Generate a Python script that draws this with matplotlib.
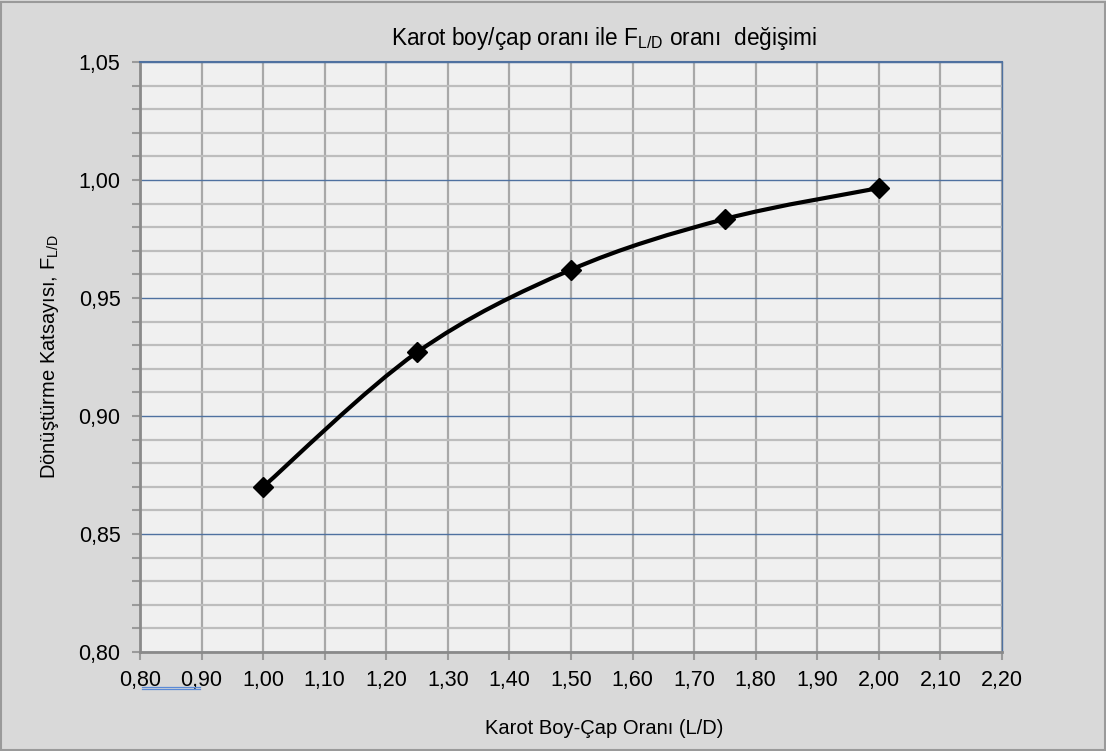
import numpy as np
import matplotlib
matplotlib.use("Agg")
import matplotlib.pyplot as plt
from matplotlib.path import Path
from matplotlib.patches import PathPatch, Rectangle
from matplotlib.lines import Line2D
from matplotlib.ticker import MultipleLocator, FuncFormatter

plt.rcParams['font.family'] = ['Liberation Sans', 'DejaVu Sans']

# Data
ld_ratio = [1.00, 1.25, 1.50, 1.75, 2.00]
f_ld = [0.870, 0.927, 0.962, 0.9835, 0.9966]

title = "Karot boy/çap oranı ile F$_{\\mathregular{L/D}}$ oranı  değişimi"
xlabel = "Karot Boy-Çap Oranı (L/D)"
ylabel = "Dönüştürme Katsayısı, F$_{\\mathregular{L/D}}$"

fig = plt.figure(figsize=(11.06, 7.51), dpi=100, facecolor='#d9d9d9')
fig.patches.append(Rectangle((0.001, 0.001), 0.998, 0.997, transform=fig.transFigure,
                             fill=False, edgecolor='#9a9a9a', linewidth=1.5))
ax = fig.add_axes([0.1266, 0.1318, 0.7794, 0.7856])
ax.set_facecolor('#f0f0f0')
ax.set_xlim(0.80, 2.20)
ax.set_ylim(0.80, 1.05)

ax.xaxis.set_major_locator(MultipleLocator(0.10))
ax.yaxis.set_major_locator(MultipleLocator(0.05))
ax.yaxis.set_minor_locator(MultipleLocator(0.01))
fmt2 = FuncFormatter(lambda v, p: f"{v:.2f}".replace('.', ','))
ax.xaxis.set_major_formatter(fmt2)
ax.yaxis.set_major_formatter(fmt2)

ax.grid(True, which='major', axis='y', color='#4f71a0', linewidth=1.0)
ax.grid(True, which='minor', axis='y', color='#bdbdbd', linewidth=1.6)
ax.grid(True, which='major', axis='x', color='#a8a8a8', linewidth=1.6)
ax.set_axisbelow(True)

ax.tick_params(axis='both', which='major', direction='out', length=6, width=1.5,
               color='#9a9a9a', labelsize=15.5)
ax.tick_params(axis='x', which='major', pad=7)
ax.tick_params(axis='y', which='major', pad=8)
ax.tick_params(axis='y', which='minor', direction='out', length=6, width=1.5, color='#9a9a9a')
ax.spines['left'].set_color('#8a8a8a')
ax.spines['left'].set_linewidth(2)
ax.spines['bottom'].set_color('#8a8a8a')
ax.spines['bottom'].set_linewidth(2)
ax.spines['top'].set_color('#4f71a0')
ax.spines['top'].set_linewidth(1.5)
ax.spines['right'].set_color('#4f71a0')
ax.spines['right'].set_linewidth(1.0)

# Smoothed line (Catmull-Rom style Bezier like Excel)
x = np.array(ld_ratio); y = np.array(f_ld)
verts = [(x[0], y[0])]
codes = [Path.MOVETO]
n = len(x)
for i in range(n - 1):
    p0 = np.array([x[max(i - 1, 0)], y[max(i - 1, 0)]])
    p1 = np.array([x[i], y[i]])
    p2 = np.array([x[i + 1], y[i + 1]])
    p3 = np.array([x[min(i + 2, n - 1)], y[min(i + 2, n - 1)]])
    c1 = p1 + (p2 - p0) / 6.0
    c2 = p2 - (p3 - p1) / 6.0
    verts += [tuple(c1), tuple(c2), tuple(p2)]
    codes += [Path.CURVE4] * 3
ax.add_patch(PathPatch(Path(verts, codes), fill=False, edgecolor='black', linewidth=3, zorder=3))
ax.plot(ld_ratio, f_ld, linestyle='none', marker='D', markersize=10, color='black', zorder=4)

ax.set_title(title, fontsize=16.3, pad=12, x=0.538)
ax.set_xlabel(xlabel, fontsize=14.5, labelpad=20, x=0.538)
ax.set_ylabel(ylabel, fontsize=14.5, labelpad=13)

# small blue double underline artifact below the first tick labels
for yy in (0.0855, 0.0832):
    fig.lines.append(Line2D([0.1285, 0.181], [yy, yy], transform=fig.transFigure,
                            color='#5b8ad6', linewidth=0.9))

fig.savefig('out.png', dpi=100, facecolor=fig.get_facecolor())
